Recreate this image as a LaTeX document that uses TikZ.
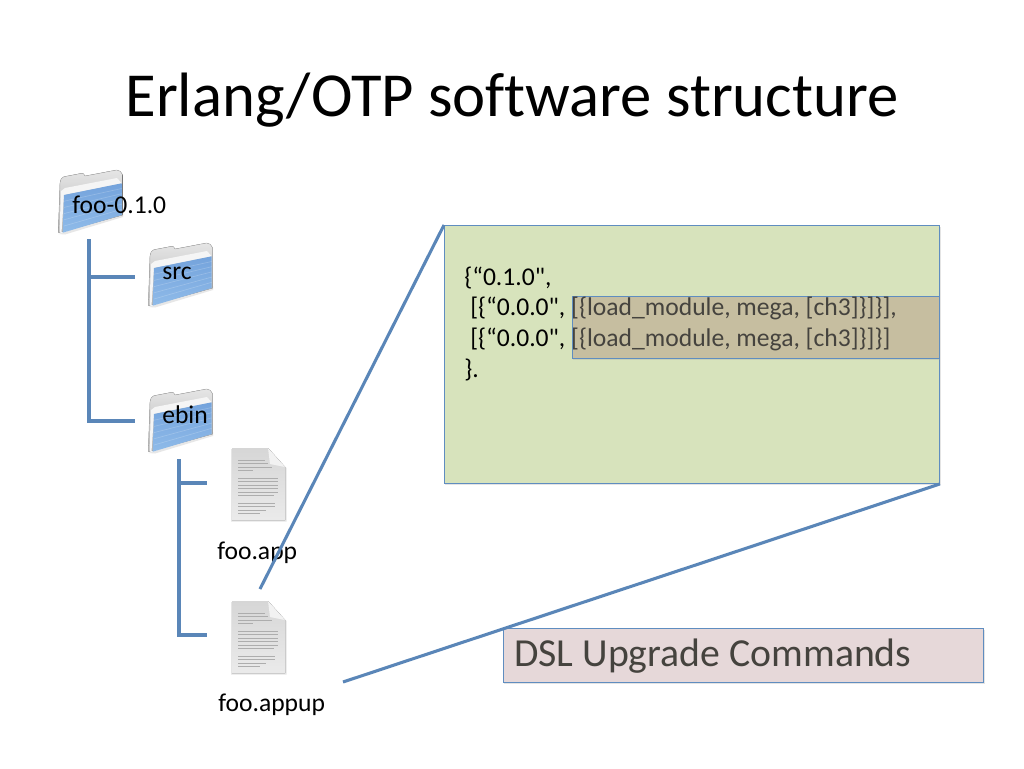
\documentclass[tikz,border=0pt]{standalone}
\usepackage{fontspec}
\setmainfont{Carlito}[Ligatures={TeXOff,NoCommon}]
\usetikzlibrary{calc}
\definecolor{linkblue}{HTML}{5A86B8}
\definecolor{boxline}{HTML}{5F8DC0}
\definecolor{greenfill}{HTML}{D7E3BC}
\definecolor{tanfill}{HTML}{C6BEA0}
\definecolor{pinkfill}{HTML}{E6D8D9}
\definecolor{softtext}{HTML}{45433E}
\definecolor{foldhi}{HTML}{74A3DC}
\definecolor{foldmid}{HTML}{CBE0F5}
\definecolor{foldlo}{HTML}{8FBBE9}
\tikzset{
  x=0.75pt,y=-0.75pt,
  linkline/.style={draw=linkblue,line width=2.3pt,line cap=butt},
  panelbox/.style={draw=boxline,line width=0.7pt},
  softshadow/.style={fill=black!35,opacity=0.3},
  labeltext/.style={font=\fontsize{19.2}{23}\selectfont,inner sep=0pt,anchor=base west},
  folderpic/.pic={
    \fill[black!30,opacity=.3] (1.3,64) -- (8,64.5) -- (66,47) -- (66,43) -- cycle;
    \filldraw[draw=black!30,line width=.3pt,top color=black!10,bottom color=black!30]
      (1.3,62.7) -- (3,13.3) .. controls (3.5,9) and (5,7) .. (7,6.7) -- (24.7,3.3)
      .. controls (26,3) and (27,4) .. (28,6) -- (59.7,0) .. controls (62,0) and (65,2) .. (65.7,5)
      -- (65.7,45) -- cycle;
    \fill[black!4] (4.5,63) -- (7,25) -- (64.7,13.3) -- (60,8) -- (8,18) -- (4,21) -- (2.5,62) -- cycle;
    \shade[shading angle=15,top color=foldhi,middle color=foldmid,bottom color=foldlo]
      (7,25) -- (64.7,13.3) -- (64.7,45) -- (5.7,62.7) -- cycle;
    \foreach \k in {1,...,5}
      \draw[white,opacity=.2,line width=.5pt] (7,25+\k*6.2) -- (64.7,13.3+\k*5.2);
  },
  filepic/.pic={
    \fill[black!25,opacity=.4] (-1,1) -- (37,1) -- (54.5,20) -- (54.5,73.5) -- (-1,73.5) -- cycle;
    \fill[top color=black!16,bottom color=black!8]
      (0,0) -- (36,0) -- (53,19) -- (53,72) -- (0,72) -- cycle;
    \fill[black!5] (36,0) -- (38,16) -- (53,19) -- cycle;
    \foreach \yy/\ww in {12/27,15.5/30,19/34,22.5/15,30/40,33.5/40,37/40,40.5/40,44/40,47.5/36,55/37,58.5/37,62/28,65/22}
      \draw[black!32,line width=.6pt] (6,\yy) -- (6+\ww,\yy);
  },
}
\begin{document}
\begin{tikzpicture}
\useasboundingbox (0,0) rectangle (1024,768);
\fill[white] (0,0) rectangle (1024,768);

\node[font=\fontsize{47}{56}\selectfont,inner sep=0pt,anchor=base] (title) at (512,116) {Erlang/OTP software structure};

% folders and files
\pic at (57,170) {folderpic};
\pic at (147,243) {folderpic};
\pic at (147,389) {folderpic};
\pic at (232,448) {filepic};
\pic at (232,601) {filepic};

% named anchors of the tree
\coordinate (fooStem) at (89,239);
\coordinate (fooElbow) at (89,421);
\coordinate (fooMid) at (89,277);
\coordinate (srcEnd) at (135,277);
\coordinate (ebinEnd) at (135,421);
\coordinate (ebinStem) at (179,459);
\coordinate (ebinElbow) at (179,635);
\coordinate (ebinMid) at (179,483);
\coordinate (appEnd) at (207,483);
\coordinate (appupEnd) at (207,635);
\coordinate (calloutA) at (260,589);
\coordinate (calloutB) at (343,682);

\draw[linkline] (fooStem) -- (fooElbow) -- (ebinEnd);
\draw[linkline] (fooMid) -- (srcEnd);
\draw[linkline] (ebinStem) -- (ebinElbow) -- (appupEnd);
\draw[linkline] (ebinMid) -- (appEnd);

% labels
\node[labeltext] (lfoo) at (72,213) {foo-0.1.0};
\node[labeltext] (lsrc) at (162,279) {src};
\node[labeltext] (lebin) at (162,423) {ebin};
\node[labeltext] (lapp) at (217,559) {foo.app};
\node[labeltext] (lappup) at (218,711) {foo.appup};

% green panel
\fill[softshadow] (445,227) rectangle (941,485);
\node[panelbox,fill=greenfill,minimum width=495*0.75pt,minimum height=258*0.75pt,inner sep=0pt,anchor=north west] (panel) at (444,225) {};
\fill[softshadow] (573,298) rectangle (940,360);
\node[panelbox,fill=tanfill,minimum width=367*0.75pt,minimum height=62*0.75pt,inner sep=0pt,anchor=north west] (cmdbox) at (572,296) {};

\node[labeltext] (l1) at (464,285) {\{“0.1.0",};
\node[labeltext] (l2) at (470,315) {[\{“0.0.0", \textcolor{softtext}{[\{load\_module, mega, [ch3]\}]\}],}};
\node[labeltext] (l3) at (470,346) {[\{“0.0.0", \textcolor{softtext}{[\{load\_module, mega, [ch3]\}]\}]}};
\node[labeltext] (l4) at (464,377) {\}.};

% pink caption box
\fill[softshadow] (504,630) rectangle (985,684);
\node[panelbox,fill=pinkfill,minimum width=480*0.75pt,minimum height=54*0.75pt,inner sep=0pt,anchor=north west] (dsl) at (503,628) {};
\node[font=\fontsize{29.8}{35}\selectfont,text=softtext,inner sep=0pt,anchor=base west] (dsltext) at (514,666) {DSL Upgrade Commands};

% callout lines
\draw[linkline] (calloutA) -- (panel.north west);
\draw[linkline] (calloutB) -- (panel.south east);
\end{tikzpicture}
\end{document}
